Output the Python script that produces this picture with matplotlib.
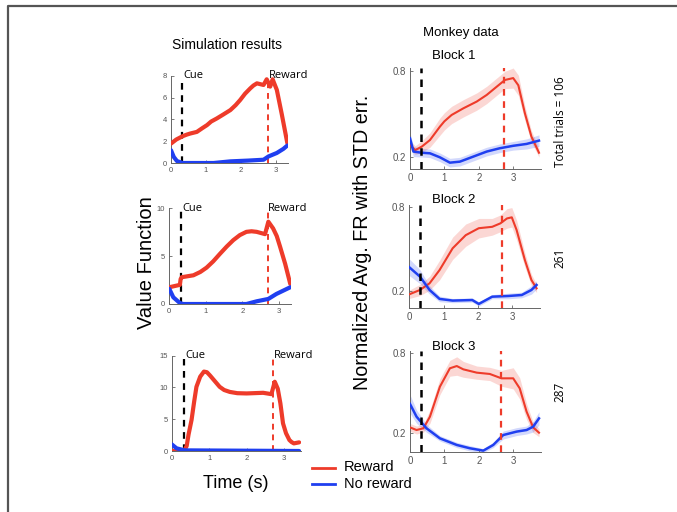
import matplotlib
matplotlib.use("Agg")
import matplotlib.pyplot as plt
from matplotlib.lines import Line2D

plt.rcParams['font.family'] = ['Liberation Sans', 'DejaVu Sans']

RED = "#ee3b2a"
BLUE = "#1f3ff0"

# ---- simulation panels (value function) ----
sim1_red_t = [0, 0.15, 0.33, 0.45, 0.55, 0.74, 0.9, 1.03, 1.15, 1.31, 1.5, 1.7, 1.85, 1.98, 2.12, 2.27, 2.36, 2.46,
              2.65, 2.74, 2.84, 2.91, 3.03, 3.17, 3.33]
sim1_red_v = [1.78, 2.15, 2.45, 2.6, 2.7, 2.85, 3.2, 3.47, 3.8, 4.08, 4.45, 4.85, 5.3, 5.77, 6.35, 6.84, 7.1, 7.3,
              7.15, 7.67, 7.0, 7.67, 6.7, 4.5, 1.84]
sim1_blue_t = [0, 0.08, 0.17, 0.33, 0.5, 1.22, 1.7, 2.2, 2.65, 2.79, 2.88, 3.03, 3.12, 3.22, 3.33]
sim1_blue_v = [1.17, 0.55, 0.18, 0.0, 0.0, 0.0, 0.15, 0.22, 0.3, 0.6, 0.72, 0.92, 1.1, 1.3, 1.6]

sim2_red_t = [0, 0.29, 0.31, 0.34, 0.5, 0.66, 0.85, 1.02, 1.2, 1.39, 1.57, 1.75, 1.93, 2.11, 2.25, 2.39, 2.62,
              2.71, 2.84, 2.94, 3.03, 3.17, 3.31]
sim2_red_v = [1.75, 2.0, 2.6, 2.8, 2.9, 3.0, 3.35, 3.8, 4.45, 5.26, 6.0, 6.67, 7.2, 7.54, 7.6, 7.54, 7.3,
              8.6, 7.9, 7.1, 6.0, 4.2, 2.1]
sim2_blue_t = [0, 0.11, 0.29, 0.38, 2.11, 2.39, 2.71, 2.93, 3.31]
sim2_blue_v = [1.58, 0.7, 0.1, 0.0, 0.0, 0.28, 0.53, 1.05, 1.75]

sim3_red_t = [0, 0.33, 0.4, 0.45, 0.53, 0.6, 0.66, 0.76, 0.86, 0.94, 1.02, 1.15, 1.28, 1.4, 1.55, 1.75, 2.0, 2.44,
              2.66, 2.75, 2.83, 2.9, 2.97, 3.05, 3.14, 3.2, 3.26, 3.4]
sim3_red_v = [0, 0, 0.8, 2.6, 4.9, 7.8, 10.1, 11.7, 12.5, 12.4, 11.9, 11.0, 10.1, 9.6, 9.3, 9.1, 9.06, 9.16,
              8.95, 10.9, 9.8, 7.5, 4.35, 2.8, 1.73, 1.4, 1.2, 1.36]
sim3_blue_t = [0, 0.13, 0.35, 3.4]
sim3_blue_v = [1.05, 0.42, 0.1, 0.0]

# ---- monkey data panels (mean and STD err.) ----
b1_red_t = [0, 0.15, 0.34, 0.58, 0.87, 1.0, 1.21, 1.55, 1.94, 2.23, 2.52, 2.76, 3.0, 3.15, 3.34, 3.53, 3.75]
b1_red_m = [0.286, 0.25, 0.274, 0.32, 0.413, 0.45, 0.494, 0.54, 0.587, 0.633, 0.69, 0.737, 0.75, 0.70, 0.506, 0.344, 0.232]
b1_red_e = [0.03, 0.03, 0.04, 0.05, 0.06, 0.06, 0.06, 0.06, 0.06, 0.06, 0.06, 0.06, 0.07, 0.07, 0.05, 0.04, 0.03]
b1_blue_t = [0, 0.1, 0.34, 0.58, 0.87, 1.16, 1.45, 1.84, 2.23, 2.61, 3.0, 3.39, 3.75]
b1_blue_m = [0.332, 0.24, 0.232, 0.228, 0.2, 0.163, 0.17, 0.205, 0.24, 0.263, 0.28, 0.293, 0.316]
b1_blue_e = [0.04, 0.035, 0.03, 0.03, 0.03, 0.03, 0.03, 0.03, 0.03, 0.03, 0.03, 0.035, 0.04]

b2_red_t = [0, 0.31, 0.59, 0.88, 1.26, 1.64, 2.02, 2.41, 2.65, 2.84, 2.98, 3.12, 3.36, 3.55, 3.7]
b2_red_m = [0.176, 0.207, 0.255, 0.35, 0.506, 0.6, 0.65, 0.66, 0.685, 0.72, 0.728, 0.637, 0.422, 0.279, 0.219]
b2_red_e = [0.03, 0.04, 0.05, 0.07, 0.08, 0.08, 0.07, 0.06, 0.06, 0.07, 0.07, 0.07, 0.05, 0.04, 0.03]
b2_blue_t = [0, 0.31, 0.59, 0.88, 1.26, 1.83, 2.02, 2.41, 2.88, 3.27, 3.55, 3.7]
b2_blue_m = [0.37, 0.303, 0.207, 0.143, 0.131, 0.135, 0.107, 0.159, 0.164, 0.171, 0.207, 0.243]
b2_blue_e = [0.06, 0.05, 0.03, 0.02, 0.015, 0.015, 0.015, 0.015, 0.02, 0.02, 0.03, 0.03]

b3_red_t = [0, 0.19, 0.39, 0.58, 0.87, 1.16, 1.36, 1.55, 1.94, 2.32, 2.66, 3.0, 3.19, 3.39, 3.58, 3.75]
b3_red_m = [0.24, 0.22, 0.233, 0.321, 0.548, 0.687, 0.704, 0.679, 0.654, 0.644, 0.611, 0.611, 0.535, 0.359, 0.24, 0.2]
b3_red_e = [0.03, 0.03, 0.03, 0.05, 0.06, 0.06, 0.07, 0.06, 0.05, 0.05, 0.06, 0.08, 0.08, 0.06, 0.04, 0.03]
b3_blue_t = [0, 0.19, 0.48, 0.87, 1.36, 1.74, 2.13, 2.42, 2.71, 3.1, 3.39, 3.58, 3.75]
b3_blue_m = [0.417, 0.321, 0.233, 0.157, 0.107, 0.082, 0.064, 0.107, 0.182, 0.208, 0.22, 0.245, 0.308]
b3_blue_e = [0.07, 0.05, 0.03, 0.02, 0.02, 0.02, 0.015, 0.02, 0.03, 0.03, 0.03, 0.04, 0.05]

trial_labels = ["Total trials = 106", "261", "287"]
block_labels = ["Block 1", "Block 2", "Block 3"]

W, H = 677, 512
fig = plt.figure(figsize=(W / 100, H / 100), dpi=100)


def px_axes(left, top, right, bottom):
    return fig.add_axes([left / W, 1 - bottom / H, (right - left) / W, (bottom - top) / H])


def style(ax, fs):
    for s in ("top", "right"):
        ax.spines[s].set_visible(False)
    for s in ("left", "bottom"):
        ax.spines[s].set_color("#666666")
        ax.spines[s].set_linewidth(0.7)
    ax.tick_params(direction="in", length=2, width=0.6, colors="#666666",
                   labelsize=fs, labelcolor="#555555", pad=3)
    ax.set_facecolor("none")


# left column
sim_panels = [
    (px_axes(171, 75.7, 288, 163), 8, [0, 2, 4, 6, 8], sim1_red_t, sim1_red_v, sim1_blue_t, sim1_blue_v, 2.78, 3.35),
    (px_axes(169.3, 208.3, 291, 304), 10, [0, 5, 10], sim2_red_t, sim2_red_v, sim2_blue_t, sim2_blue_v, 2.69, 3.33),
    (px_axes(171.7, 355.7, 301, 451), 15, [0, 5, 10, 15], sim3_red_t, sim3_red_v, sim3_blue_t, sim3_blue_v, 2.71, 3.45),
]
for ax, ymax, yt, rt, rv, bt, bv, rw, xmax in sim_panels:
    ax.plot(rt, rv, color=RED, lw=3, solid_capstyle="round", solid_joinstyle="round", zorder=3)
    ax.plot(bt, bv, color=BLUE, lw=3, solid_capstyle="round", solid_joinstyle="round", zorder=4)
    ax.plot([0.32, 0.32], [0, ymax * 0.97], color="black", lw=1.6, ls=(0, (3, 2.5)), zorder=2)
    ax.plot([rw, rw], [0, ymax * 0.97], color=RED, lw=1.4, ls=(0, (3, 2.5)), zorder=2)
    ax.text(0.36, ymax, "Cue", fontsize=8, family=["Open Sans", "DejaVu Sans"], va="center", ha="left")
    ax.text(rw + 0.02, ymax, "Reward", fontsize=8, family=["Open Sans", "DejaVu Sans"], va="center", ha="left")
    ax.set_xlim(0, xmax)
    ax.set_ylim(0, ymax)
    ax.set_xticks([0, 1, 2, 3])
    ax.set_yticks(yt)
    style(ax, 5.5)

# right column
mk_panels = [
    (px_axes(410, 68, 540.7, 169), 0.119, b1_red_t, b1_red_m, b1_red_e, b1_blue_t, b1_blue_m, b1_blue_e, 2.74),
    (px_axes(409.3, 204.5, 540, 307.7), 0.08, b2_red_t, b2_red_m, b2_red_e, b2_blue_t, b2_blue_m, b2_blue_e, 2.7),
    (px_axes(410, 350.7, 540.7, 451.7), 0.056, b3_red_t, b3_red_m, b3_red_e, b3_blue_t, b3_blue_m, b3_blue_e, 2.66),
]
for ax, ymin, rt, rm, re, bt, bm, be, rw in mk_panels:
    ax.fill_between(rt, [m - e for m, e in zip(rm, re)], [m + e for m, e in zip(rm, re)],
                    color=RED, alpha=0.2, lw=0)
    ax.fill_between(bt, [m - e for m, e in zip(bm, be)], [m + e for m, e in zip(bm, be)],
                    color=BLUE, alpha=0.2, lw=0)
    ax.plot(rt, rm, color=RED, lw=1.5, zorder=3)
    ax.plot(bt, bm, color=BLUE, lw=1.8, zorder=3)
    ax.plot([0.32, 0.32], [ymin, 0.82], color="black", lw=1.8, ls=(0, (3, 2.5)), zorder=4)
    ax.plot([rw, rw], [ymin, 0.82], color=RED, lw=1.6, ls=(0, (3, 2.5)), zorder=4)
    ax.set_xlim(0, 3.8)
    ax.set_ylim(ymin, 0.82)
    ax.set_xticks([0, 1, 2, 3])
    ax.set_yticks([0.2, 0.8])
    ax.set_yticklabels(["0.2", "0.8"])
    style(ax, 7)

# titles and labels
fig.text(227 / W, 1 - 45 / H, "Simulation results", fontsize=10, ha="center", va="center")
fig.text(461 / W, 1 - 33 / H, "Monkey data", fontsize=9.5, ha="center", va="center")
for lab, y in zip(block_labels, [56, 200, 347]):
    fig.text(432 / W, 1 - y / H, lab, fontsize=9.5, ha="left", va="center")
for lab, y in zip(trial_labels, [122, 258, 392]):
    fig.text(560 / W, 1 - y / H, lab, fontsize=8.5, rotation=90, ha="center", va="center",
             family=["Open Sans", "DejaVu Sans"])

fig.text(146 / W, 1 - 263 / H, "Value Function", fontsize=14.5, rotation=90, ha="center", va="center")
fig.text(362 / W, 1 - 242 / H, "Normalized Avg. FR with STD err.", fontsize=14.2, rotation=90,
         ha="center", va="center")
fig.text(236 / W, 1 - 483 / H, "Time (s)", fontsize=13, ha="center", va="center")

# legend
fig.add_artist(Line2D([312 / W, 335 / W], [1 - 468 / H, 1 - 468 / H], color=RED, lw=2))
fig.add_artist(Line2D([312 / W, 335 / W], [1 - 484 / H, 1 - 484 / H], color=BLUE, lw=2))
fig.text(344 / W, 1 - 467 / H, "Reward", fontsize=10.5, ha="left", va="center")
fig.text(344 / W, 1 - 484 / H, "No reward", fontsize=10.5, ha="left", va="center")

# outer frame (left and top only)
fig.add_artist(Line2D([7.8 / W, 7.8 / W, 1], [0, 1 - 6 / H, 1 - 6 / H], color="#555555", lw=1.6))

fig.savefig("out.png", dpi=100)
plt.close(fig)
